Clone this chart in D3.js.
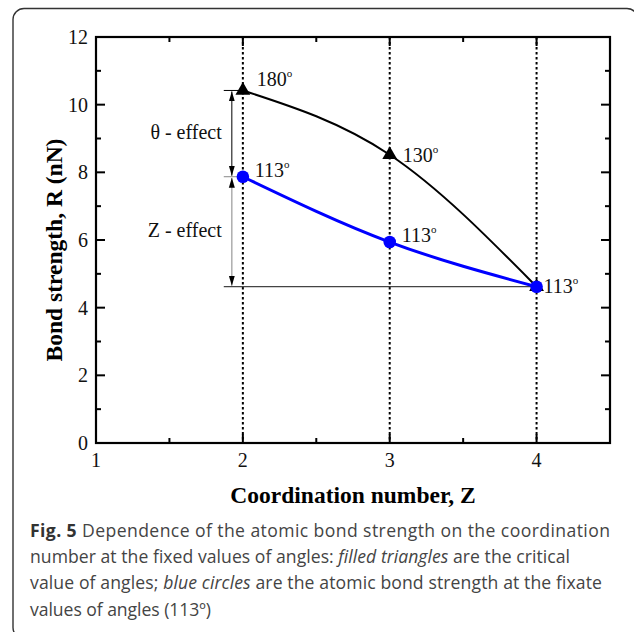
<!DOCTYPE html>
<meta charset="utf-8">

<style>
body { margin: 0; background: #fff; }
svg.chart text { font-family: "Liberation Serif", "Times New Roman", serif; }
svg.chart .tick-label { font-size: 20px; fill: #111; }
svg.chart .axis-title { font-size: 23.5px; font-weight: bold; fill: #000; }
svg.chart .note { font-family: "Liberation Serif", serif; font-size: 20px; fill: #111; }
svg.chart .caption { font-family: "Open Sans", sans-serif; font-size: 17.6px; fill: #444; }
</style>

<svg class="chart" width="634" height="632"></svg>

<script src="https://d3js.org/d3.v7.min.js"></script>
<script>

// data
var zValues = [2, 3, 4];
var criticalStrength = [10.42, 8.52, 4.62];
var fixedStrength = [7.87, 5.94, 4.62];
var criticalAngles = ["180", "130", "113"];
var fixedAngles = ["113", "113", "113"];
var yTicks = [0, 2, 4, 6, 8, 10, 12];
var xTicks = [1, 2, 3, 4];

var svg = d3.select("svg.chart");
var margin = {top: 37, right: 24, bottom: 189, left: 96};
var width = +svg.attr("width") - margin.left - margin.right;
var height = +svg.attr("height") - margin.top - margin.bottom;

// frame around the figure
svg.append("rect")
  .attr("x", 13).attr("y", 8.5)
  .attr("width", 625).attr("height", 630)
  .attr("rx", 11)
  .attr("fill", "none")
  .attr("stroke", "#333")
  .attr("stroke-width", 1.4);

var chart = svg.append("g")
  .attr("transform", `translate(${margin.left},${margin.top})`);

var x = d3.scaleLinear().domain([1, 4.5]).range([0, width]);
var y = d3.scaleLinear().domain([0, 12]).range([height, 0]);

// arrow heads
var defs = svg.append("defs");
defs.append("marker")
  .attr("id", "arrow")
  .attr("viewBox", "0 0 10 10")
  .attr("refX", 10).attr("refY", 5)
  .attr("markerWidth", 10).attr("markerHeight", 10)
  .attr("markerUnits", "userSpaceOnUse")
  .attr("orient", "auto-start-reverse")
  .append("path")
    .attr("d", "M0,2L10,5L0,8Z")
    .attr("fill", "#000");

// dotted vertical lines
chart.selectAll(".guide")
  .data(zValues)
  .enter().append("line")
    .attr("class", "guide")
    .attr("x1", d => x(d)).attr("x2", d => x(d))
    .attr("y1", 0).attr("y2", height)
    .attr("stroke", "#000")
    .attr("stroke-width", 2)
    .attr("stroke-dasharray", "2.5,2.5");

// reference lines + effect arrows
var refX0 = x(1.87);
var arrowX = x(1.925);
chart.append("line")
  .attr("x1", refX0).attr("x2", x(2))
  .attr("y1", y(criticalStrength[0])).attr("y2", y(criticalStrength[0]))
  .attr("stroke", "#000").attr("stroke-width", 1);
chart.append("line")
  .attr("x1", refX0).attr("x2", x(2))
  .attr("y1", y(fixedStrength[0])).attr("y2", y(fixedStrength[0]))
  .attr("stroke", "#888").attr("stroke-width", 1);
chart.append("line")
  .attr("x1", refX0).attr("x2", x(4))
  .attr("y1", y(fixedStrength[2])).attr("y2", y(fixedStrength[2]))
  .attr("stroke", "#444").attr("stroke-width", 1.2);

chart.append("line")
  .attr("x1", arrowX).attr("x2", arrowX)
  .attr("y1", y(criticalStrength[0]) + 1).attr("y2", y(fixedStrength[0]) - 1)
  .attr("stroke", "#000").attr("stroke-width", 1)
  .attr("marker-start", "url(#arrow)")
  .attr("marker-end", "url(#arrow)");
chart.append("line")
  .attr("x1", arrowX).attr("x2", arrowX)
  .attr("y1", y(fixedStrength[0]) + 1).attr("y2", y(fixedStrength[2]) - 1)
  .attr("stroke", "#999").attr("stroke-width", 1.2)
  .attr("marker-start", "url(#arrow)")
  .attr("marker-end", "url(#arrow)");

chart.append("text").attr("class", "note")
  .attr("x", refX0 - 2).attr("y", y(9.0))
  .attr("text-anchor", "end")
  .text("θ - effect");
chart.append("text").attr("class", "note")
  .attr("x", refX0 - 2).attr("y", y(6.1))
  .attr("text-anchor", "end")
  .text("Z - effect");

// curves
var line = d3.line()
  .x((d, i) => x(zValues[i]))
  .y(d => y(d))
  .curve(d3.curveNatural);

chart.append("path")
  .attr("d", line(criticalStrength))
  .attr("fill", "none").attr("stroke", "#000").attr("stroke-width", 2);

chart.append("path")
  .attr("d", line(fixedStrength))
  .attr("fill", "none").attr("stroke", "#0000ff").attr("stroke-width", 3);

// markers
chart.selectAll(".tri")
  .data(criticalStrength)
  .enter().append("path")
    .attr("class", "tri")
    .attr("transform", (d, i) => `translate(${x(zValues[i])},${y(d)})`)
    .attr("d", d3.symbol(d3.symbolTriangle, 95))
    .attr("fill", "#000");

chart.selectAll(".dot")
  .data(fixedStrength)
  .enter().append("circle")
    .attr("class", "dot")
    .attr("cx", (d, i) => x(zValues[i]))
    .attr("cy", d => y(d))
    .attr("r", 6.3)
    .attr("fill", "#0000ff");

// angle labels
function angleLabel(txt, px, py) {
  var t = chart.append("text").attr("class", "note")
    .attr("x", px).attr("y", py);
  t.append("tspan").text(txt);
  t.append("tspan").attr("dy", -9).style("font-size", "11px").text("o");
}
var critOffsets = [[14, -4], [13, 7], [0, 0]];
var fixOffsets = [[12, 0], [12, 0], [7, 6]];
criticalAngles.forEach(function(a, i) {
  if (i === 2) return; // hidden under the circle at Z = 4
  angleLabel(a, x(zValues[i]) + critOffsets[i][0], y(criticalStrength[i]) + critOffsets[i][1]);
});
fixedAngles.forEach(function(a, i) {
  angleLabel(a, x(zValues[i]) + fixOffsets[i][0], y(fixedStrength[i]) + fixOffsets[i][1]);
});

// axes frame
chart.append("rect")
  .attr("width", width).attr("height", height)
  .attr("fill", "none").attr("stroke", "#000").attr("stroke-width", 2.2);

var yMinor = d3.range(1, 12, 2);
var xMinor = [1.5, 2.5, 3.5];

function ticks(vals, len, horizontal) {
  vals.forEach(function(v) {
    if (horizontal) {
      chart.append("line").attr("x1", 0).attr("x2", len).attr("y1", y(v)).attr("y2", y(v))
        .attr("stroke", "#000").attr("stroke-width", 2);
      chart.append("line").attr("x1", width).attr("x2", width - len).attr("y1", y(v)).attr("y2", y(v))
        .attr("stroke", "#000").attr("stroke-width", 2);
    } else {
      chart.append("line").attr("y1", height).attr("y2", height - len).attr("x1", x(v)).attr("x2", x(v))
        .attr("stroke", "#000").attr("stroke-width", 2);
      chart.append("line").attr("y1", 0).attr("y2", len).attr("x1", x(v)).attr("x2", x(v))
        .attr("stroke", "#000").attr("stroke-width", 2);
    }
  });
}
ticks(yTicks, 9, true);
ticks(yMinor, 5, true);
ticks(xTicks, 9, false);
ticks(xMinor, 5, false);

chart.selectAll(".ylab")
  .data(yTicks)
  .enter().append("text")
    .attr("class", "tick-label")
    .attr("x", -8).attr("y", d => y(d))
    .attr("dy", "0.35em")
    .attr("text-anchor", "end")
    .text(d => d);

chart.selectAll(".xlab")
  .data(xTicks)
  .enter().append("text")
    .attr("class", "tick-label")
    .attr("x", d => x(d)).attr("y", height + 24)
    .attr("text-anchor", "middle")
    .text(d => d);

chart.append("text")
  .attr("class", "axis-title")
  .attr("x", width / 2).attr("y", height + 60)
  .attr("text-anchor", "middle")
  .text("Coordination number, Z");

chart.append("text")
  .attr("class", "axis-title")
  .attr("transform", `translate(-34,${height / 2 + 10}) rotate(-90)`)
  .attr("text-anchor", "middle")
  .text("Bond strength, R (nN)");

// caption, one text per line so each can be fitted to the original width
var capLines = [
  {y: 537, len: 580, parts: [["Fig. 5", "b"], [" Dependence of the atomic bond strength on the coordination", ""]]},
  {y: 563, len: 540, parts: [["number at the fixed values of angles: ", ""], ["filled triangles", "i"], [" are the critical", ""]]},
  {y: 589, len: 572, parts: [["value of angles; ", ""], ["blue circles", "i"], [" are the atomic bond strength at the fixate", ""]]},
  {y: 616, len: 181, parts: [["values of angles (113º)", ""]]}
];
capLines.forEach(function(l) {
  var t = svg.append("text").attr("class", "caption")
    .attr("x", 30).attr("y", l.y)
    .attr("textLength", l.len)
    .attr("lengthAdjust", "spacing");
  l.parts.forEach(function(p) {
    var s = t.append("tspan").text(p[0]);
    if (p[1] === "b") s.style("font-weight", "bold").style("fill", "#333");
    if (p[1] === "i") s.style("font-style", "italic");
  });
});

</script>
